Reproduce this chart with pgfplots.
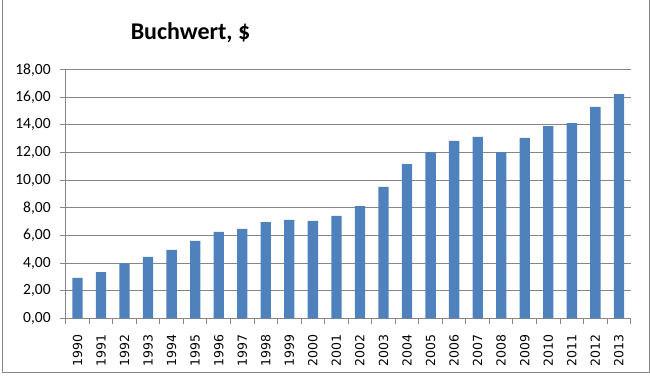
\documentclass[border=0pt]{standalone}
\usepackage{fontspec}
\setmainfont{Carlito}
\newfontfamily\yearfont{DejaVu Sans}
\usepackage{pgfplots}
\pgfplotsset{compat=1.18}
\definecolor{barblue}{HTML}{4F81BD}
\definecolor{gridgray}{HTML}{878787}
\begin{document}
\begin{tikzpicture}
\useasboundingbox (0pt,0pt) rectangle (650pt,376pt);
\draw[gridgray, line width=1pt] (2pt,380pt) -- (2pt,3.5pt) -- (649pt,3.5pt) -- (649pt,380pt);
\node[font=\bfseries\fontsize{24}{24}\selectfont] at (190.5pt,343pt) {Buchwert, \$};
\begin{axis}[
  at={(65.7pt,57.7pt)}, anchor=south west,
  scale only axis, width=565pt, height=248.6pt,
  ybar, bar width=10.3pt,
  ymin=0, ymax=18, xmin=1989.5, xmax=2013.5,
  enlargelimits=false,
  axis x line*=bottom, axis y line*=left,
  axis line style={gridgray, line width=1pt},
  ymajorgrids, grid style={gridgray, line width=1pt},
  ytick={0,2,...,18},
  xtick={1990,...,2013},
  minor xtick={1989.5,1990.5,...,2013.5},
  tick style={gridgray, line width=1pt},
  major x tick style={draw=none},
  tick align=outside,
  major tick length=5.5pt, minor tick length=5.5pt,
  xticklabel shift=7pt, yticklabel shift=6pt,
  xticklabel={\pgfmathprintnumber[1000 sep={},assume math mode=true]{\tick}},
  xticklabel style={rotate=90, anchor=east, font=\yearfont\fontsize{12.5}{12.5}\selectfont},
  yticklabel={\pgfmathprintnumber[fixed,fixed zerofill,precision=2,use comma,assume math mode=true]{\tick}},
  yticklabel style={font=\fontsize{15.5}{16}\selectfont},
]
\addplot[fill=barblue, draw=none] coordinates {
(1990,2.92)(1991,3.35)(1992,3.98)(1993,4.44)(1994,4.95)(1995,5.60)(1996,6.25)(1997,6.47)(1998,6.97)(1999,7.12)(2000,7.05)(2001,7.41)(2002,8.13)(2003,9.51)(2004,11.17)(2005,12.04)(2006,12.84)(2007,13.13)(2008,12.04)(2009,13.06)(2010,13.92)(2011,14.14)(2012,15.30)(2013,16.24)
};
\end{axis}
\end{tikzpicture}
\end{document}
